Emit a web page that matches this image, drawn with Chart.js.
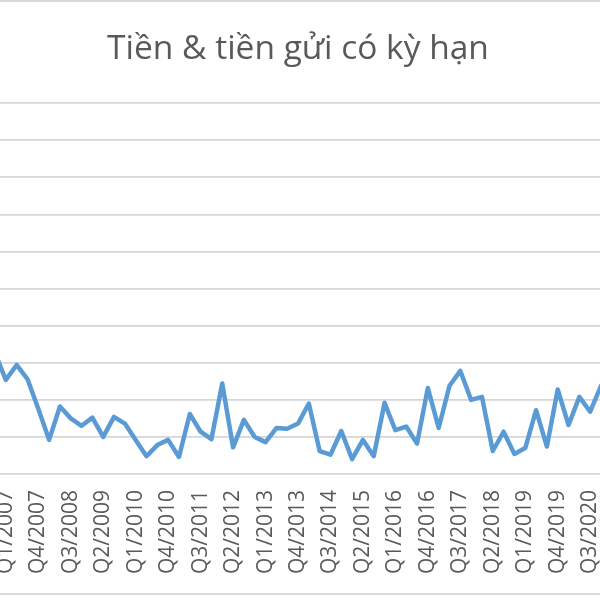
<!DOCTYPE html>
<html lang="vi">
<head>
  <meta charset="UTF-8"/>
  <title>Tiền & tiền gửi có kỳ hạn</title>
  <script src="https://cdn.jsdelivr.net/npm/chart.js"></script>
  <style>
    html, body { margin: 0; padding: 0; background: #fff; }
    #frame { position: relative; width: 600px; height: 600px; overflow: hidden; }
    #edge { position: absolute; left: 0; top: 0; width: 600px; height: 595px; border-top: 2px solid #dadada; border-bottom: 2px solid #dadada; box-sizing: border-box; pointer-events: none; }
    #box { position: absolute; left: -20px; top: 0; width: 640px; height: 600px; }
  </style>
</head>
<body>
  <div id="frame">
    <div id="box"><canvas id="chart"></canvas></div>
    <div id="edge"></div>
  </div>

  <script>
    const quarters = [
      'Q4/2006',
      'Q1/2007', 'Q2/2007', 'Q3/2007', 'Q4/2007',
      'Q1/2008', 'Q2/2008', 'Q3/2008', 'Q4/2008',
      'Q1/2009', 'Q2/2009', 'Q3/2009', 'Q4/2009',
      'Q1/2010', 'Q2/2010', 'Q3/2010', 'Q4/2010',
      'Q1/2011', 'Q2/2011', 'Q3/2011', 'Q4/2011',
      'Q1/2012', 'Q2/2012', 'Q3/2012', 'Q4/2012',
      'Q1/2013', 'Q2/2013', 'Q3/2013', 'Q4/2013',
      'Q1/2014', 'Q2/2014', 'Q3/2014', 'Q4/2014',
      'Q1/2015', 'Q2/2015', 'Q3/2015', 'Q4/2015',
      'Q1/2016', 'Q2/2016', 'Q3/2016', 'Q4/2016',
      'Q1/2017', 'Q2/2017', 'Q3/2017', 'Q4/2017',
      'Q1/2018', 'Q2/2018', 'Q3/2018', 'Q4/2018',
      'Q1/2019', 'Q2/2019', 'Q3/2019', 'Q4/2019',
      'Q1/2020', 'Q2/2020', 'Q3/2020', 'Q4/2020'
    ]

    // share of cash & term deposits
    const cashDeposits = [
      16.3,
      12.7, 14.7, 12.8, 8.8,
      4.6, 9.1, 7.5, 6.5,
      7.6, 5.0, 7.7, 6.8,
      4.6, 2.4, 3.9, 4.6,
      2.3, 8.1, 5.7, 4.7,
      12.2, 3.6, 7.3, 5.0,
      4.3, 6.2, 6.1, 6.8,
      9.5, 3.1, 2.6, 5.8,
      2.0, 4.6, 2.4, 9.6,
      5.9, 6.4, 4.1, 11.6,
      6.2, 11.9, 13.9, 10.0,
      10.4, 3.1, 5.7, 2.7,
      3.5, 8.6, 3.7, 11.4,
      6.6, 10.4, 8.4, 11.9
    ]

    const yMin = 0
    const yMax = 50
    const yStep = 5

    const grey = '#595959'

    new Chart(document.getElementById('chart'), {
      type: 'line',
      data: {
        labels: quarters,
        datasets: [{
          label: 'Tiền & tiền gửi có kỳ hạn',
          data: cashDeposits,
          borderColor: '#5b9bd5',
          borderWidth: 4.5,
          borderJoinStyle: 'round',
          borderCapStyle: 'round',
          pointRadius: 0,
          tension: 0
        }]
      },
      options: {
        responsive: true,
        maintainAspectRatio: false,
        animation: false,
        layout: { padding: { left: 15, right: 19, top: 0, bottom: 0 } },
        plugins: {
          legend: { display: false },
          tooltip: { enabled: false },
          title: {
            display: true,
            text: 'Tiền & tiền gửi có kỳ hạn',
            color: grey,
            font: { family: 'Open Sans', size: 33.5, weight: 'normal' },
            padding: { top: 29, bottom: 34 }
          }
        },
        scales: {
          x: {
            offset: false,
            grid: { display: false, drawTicks: false },
            border: { display: false },
            ticks: {
              autoSkip: false,
              minRotation: 90,
              maxRotation: 90,
              padding: 16,
              color: grey,
              font: { family: 'Open Sans', size: 21 },
              callback: function (val, i) {
                return i % 3 === 1 ? this.getLabelForValue(val) : ''
              }
            },
            afterFit: (scale) => {
              scale.height = 126
              scale.paddingLeft = 0
              scale.paddingRight = 0
            }
          },
          y: {
            min: yMin,
            max: yMax,
            border: { display: false },
            grid: { color: '#d6d6d6', lineWidth: 1.75, drawTicks: false },
            ticks: { display: false, stepSize: yStep }
          }
        }
      }
    })
  </script>
</body>
</html>
